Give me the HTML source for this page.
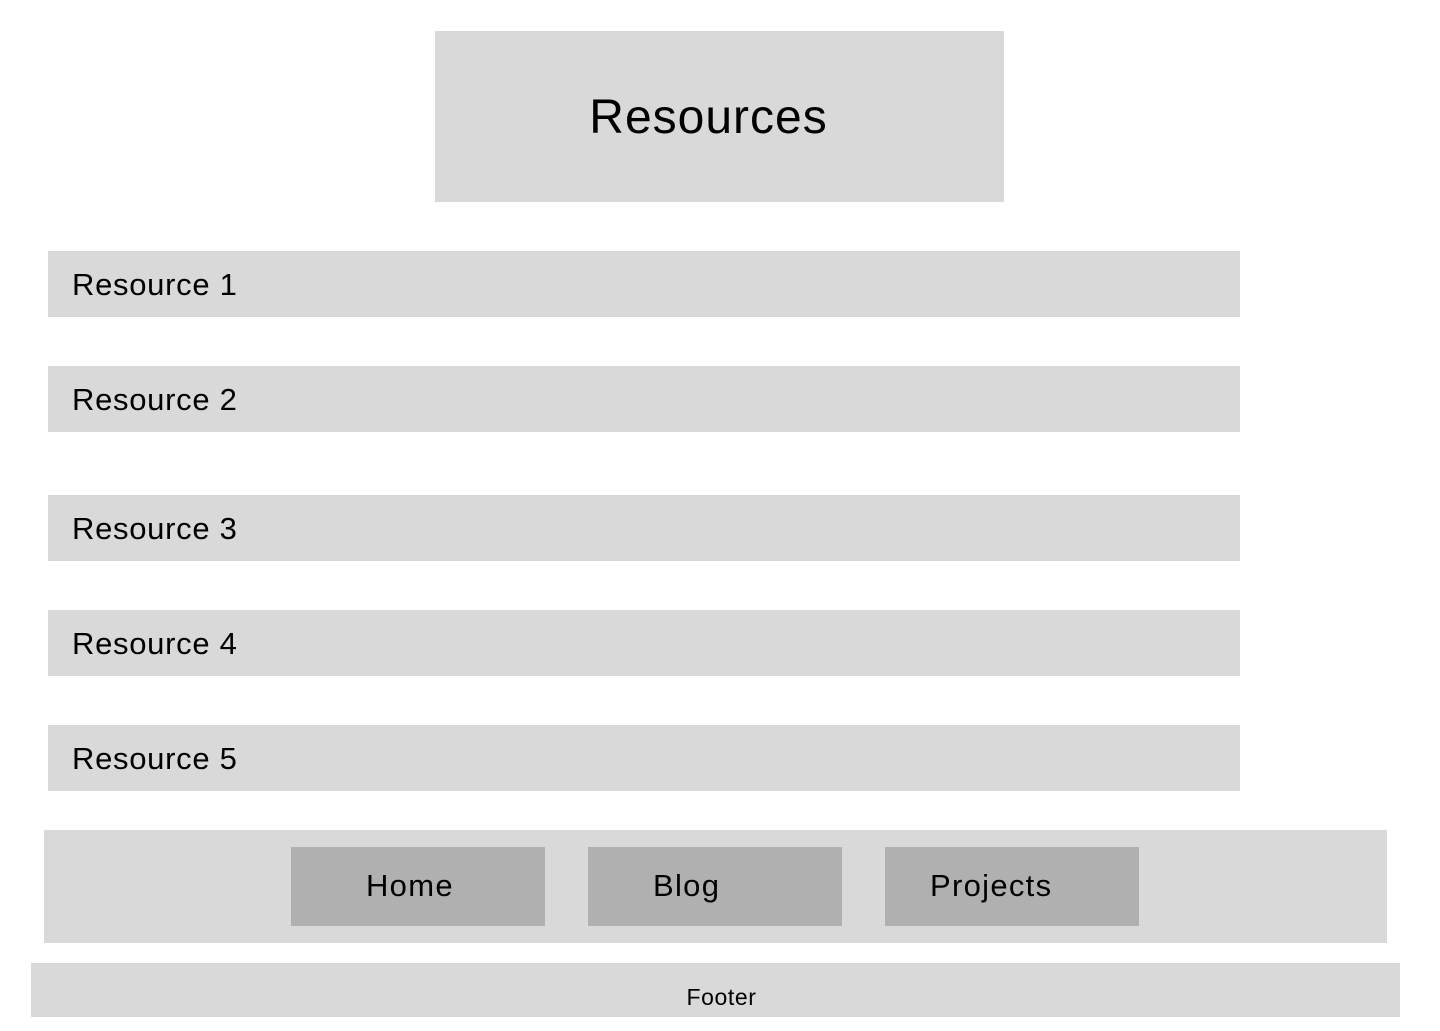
<!DOCTYPE html>
<html><head><style>
body{margin:0;width:1440px;height:1024px;background:#fff;position:relative;font-family:"Liberation Sans",sans-serif;color:#000;overflow:hidden}
.b{position:absolute;background:#d9d9d9}
.r{left:48px;width:1192px;height:66px;font-size:31px;line-height:68px;padding-left:24px;box-sizing:border-box;letter-spacing:0.7px}
.n{position:absolute;top:847px;width:254px;height:79px;background:#b0b0b0;font-size:31px;line-height:78px;letter-spacing:1.3px}
</style></head><body>
<div class="b" style="left:435px;top:31px;width:569px;height:171px;font-size:48px;line-height:174px;text-align:center;padding-right:22px;box-sizing:border-box;letter-spacing:1px">Resources</div>
<div class="b r" style="top:251px">Resource 1</div>
<div class="b r" style="top:366px">Resource 2</div>
<div class="b r" style="top:495px">Resource 3</div>
<div class="b r" style="top:610px">Resource 4</div>
<div class="b r" style="top:725px">Resource 5</div>
<div class="b" style="left:44px;top:830px;width:1343px;height:113px"></div>
<div class="n" style="left:291px"><span style="position:absolute;left:75px">Home</span></div>
<div class="n" style="left:588px"><span style="position:absolute;left:65px">Blog</span></div>
<div class="n" style="left:885px"><span style="position:absolute;left:45px">Projects</span></div>
<div class="b" style="left:31px;top:963px;width:1369px;height:54px;font-size:23px;line-height:68px;text-align:center;padding-left:12px;box-sizing:border-box;letter-spacing:0.6px">Footer</div>
</body></html>
